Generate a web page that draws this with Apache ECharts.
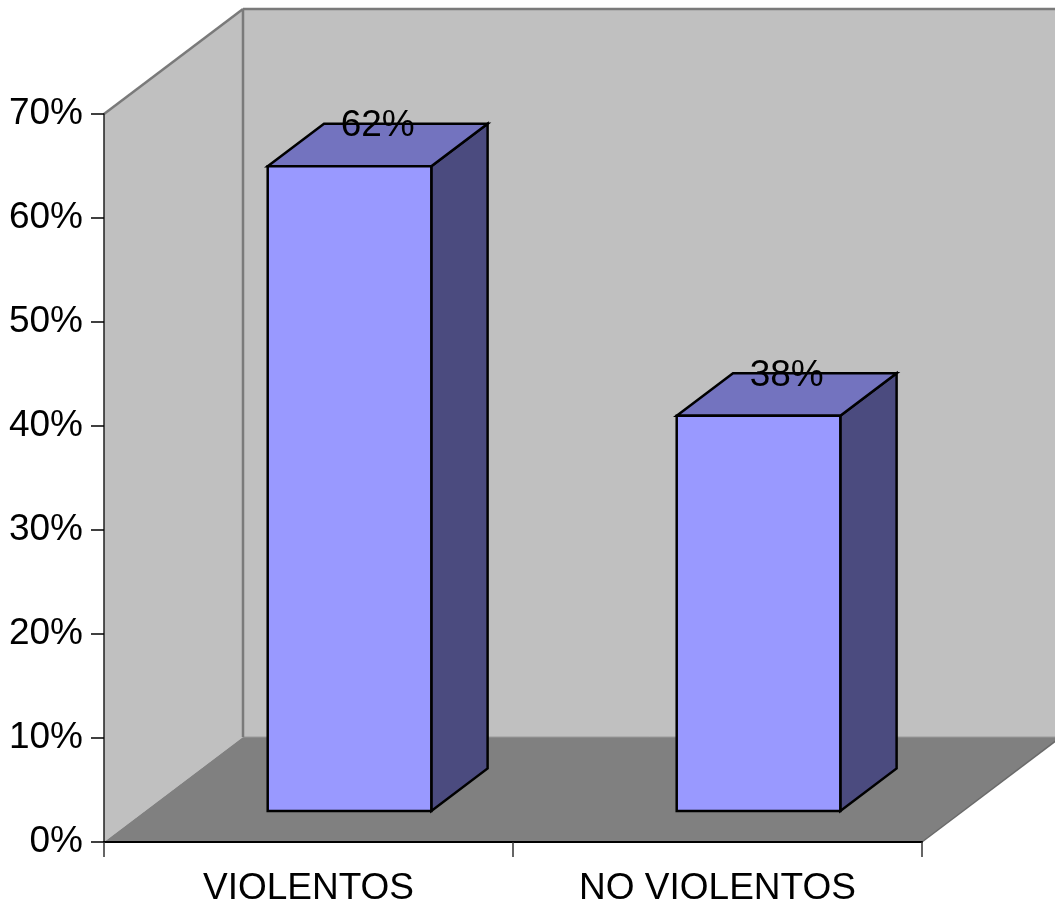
<!DOCTYPE html>
<html>
<head>
<meta charset="utf-8">
<title>VIOLENTOS / NO VIOLENTOS</title>
<script src="https://cdn.jsdelivr.net/npm/echarts@6/dist/echarts.min.js"></script>
<style>
  html, body { margin: 0; padding: 0; background: #ffffff; }
  #chart { width: 1055px; height: 907px; }
</style>
</head>
<body>
<div id="chart"></div>
<script>
// Categories and their shares (fractions of 1)
const categories = ['VIOLENTOS', 'NO VIOLENTOS'];
const shares = [0.62, 0.38];

// Value axis range
const axisMin = 0;
const axisMax = 0.7;
const axisStep = 0.1;

// 3D look: depth offset of the room, and where bars sit inside that depth
const DEPTH_X = 139;
const DEPTH_Y = 105;
const BAR_FRONT = 0.295;
const BAR_BACK = 0.70;
const BAR_WIDTH = 0.4;

const FONT = '"Liberation Sans", Arial, Helvetica, sans-serif';

const chart = echarts.init(document.getElementById('chart'), null, { renderer: 'canvas' });

// Walls and floor of the 3D box, built from the grid rectangle
function renderRoom(params, api) {
  const cs = params.coordSys;
  const x0 = cs.x, x1 = cs.x + cs.width;
  const yT = cs.y, yB = cs.y + cs.height;
  const dx = DEPTH_X, dy = DEPTH_Y;
  const edge = { stroke: '#7a7a7a', lineWidth: 2.5 };
  return {
    type: 'group',
    children: [
      { type: 'polygon', shape: { points: [[x0 + dx, yT - dy], [x1 + dx, yT - dy], [x1 + dx, yB - dy], [x0 + dx, yB - dy]] },
        style: { fill: '#c0c0c0' } },
      { type: 'polygon', shape: { points: [[x0, yT], [x0 + dx, yT - dy], [x0 + dx, yB - dy], [x0, yB]] },
        style: { fill: '#c0c0c0' } },
      { type: 'polygon', shape: { points: [[x0, yB], [x0 + dx, yB - dy], [x1 + dx, yB - dy], [x1, yB]] },
        style: { fill: '#808080' } },
      { type: 'line', shape: { x1: x1, y1: yB, x2: x1 + dx, y2: yB - dy }, style: { stroke: '#6a6a6a', lineWidth: 1.5 } },
      { type: 'line', shape: { x1: x0 + dx, y1: yB - dy, x2: x1 + dx, y2: yB - dy }, style: { stroke: '#9a9a9a', lineWidth: 1 } },
      { type: 'line', shape: { x1: x0, y1: yT, x2: x0 + dx, y2: yT - dy }, style: edge },
      { type: 'line', shape: { x1: x0 + dx, y1: yT - dy, x2: x0 + dx, y2: yB - dy }, style: edge },
      { type: 'line', shape: { x1: x0 + dx, y1: yT - dy, x2: x1 + dx, y2: yT - dy }, style: edge }
    ]
  };
}

// One prism per category: front, top and side faces plus the value label
function renderBar(params, api) {
  const idx = api.value(0);
  const val = api.value(1);
  const base = api.coord([idx, 0]);
  const top = api.coord([idx, val]);
  const band = api.size([1, 0])[0];
  const w = band * BAR_WIDTH;
  const l = base[0] - w / 2, r = base[0] + w / 2;
  const fx = DEPTH_X * BAR_FRONT, fy = DEPTH_Y * BAR_FRONT;
  const bx = DEPTH_X * BAR_BACK, by = DEPTH_Y * BAR_BACK;
  const line = { stroke: '#000000', lineWidth: 2.5, lineJoin: 'miter' };
  return {
    type: 'group',
    children: [
      { type: 'polygon',
        shape: { points: [[r + fx, top[1] - fy], [r + bx, top[1] - by], [r + bx, base[1] - by], [r + fx, base[1] - fy]] },
        style: Object.assign({ fill: '#4b4b7f' }, line) },
      { type: 'polygon',
        shape: { points: [[l + fx, top[1] - fy], [r + fx, top[1] - fy], [r + bx, top[1] - by], [l + bx, top[1] - by]] },
        style: Object.assign({ fill: '#7373bf' }, line) },
      { type: 'polygon',
        shape: { points: [[l + fx, top[1] - fy], [r + fx, top[1] - fy], [r + fx, base[1] - fy], [l + fx, base[1] - fy]] },
        style: Object.assign({ fill: '#9999ff' }, line) },
      { type: 'text',
        style: {
          x: (l + fx + r + bx) / 2,
          y: top[1] - by + 2,
          text: Math.round(val * 100) + '%',
          fill: '#000000',
          font: '37px ' + FONT,
          align: 'center',
          verticalAlign: 'middle'
        } }
    ]
  };
}

const option = {
  backgroundColor: '#ffffff',
  animation: false,
  grid: { left: 104, right: 133, top: 114, bottom: 64, containLabel: false },
  xAxis: {
    type: 'category',
    data: categories,
    boundaryGap: true,
    z: 10,
    axisLine: { show: true, lineStyle: { color: '#000000', width: 2 } },
    axisTick: { show: true, length: 15, lineStyle: { color: '#333333', width: 1.5 } },
    axisLabel: { color: '#000000', fontSize: 37, fontFamily: FONT, margin: 28 },
    splitLine: { show: false }
  },
  yAxis: {
    type: 'value',
    min: axisMin,
    max: axisMax,
    interval: axisStep,
    z: 10,
    axisLine: { show: true, lineStyle: { color: '#202020', width: 1.5 } },
    axisTick: { show: true, length: 13, lineStyle: { color: '#000000', width: 1.5 } },
    axisLabel: {
      color: '#000000', fontSize: 37, fontFamily: FONT, margin: 21,
      padding: [5, 0, 0, 0],
      formatter: v => Math.round(v * 100) + '%'
    },
    splitLine: { show: false }
  },
  series: [
    { type: 'custom', renderItem: renderRoom, data: [[0, 0]], silent: true, clip: false },
    { type: 'custom', renderItem: renderBar, data: shares.map((v, i) => [i, v]), clip: false }
  ]
};

chart.setOption(option);
</script>
</body>
</html>
